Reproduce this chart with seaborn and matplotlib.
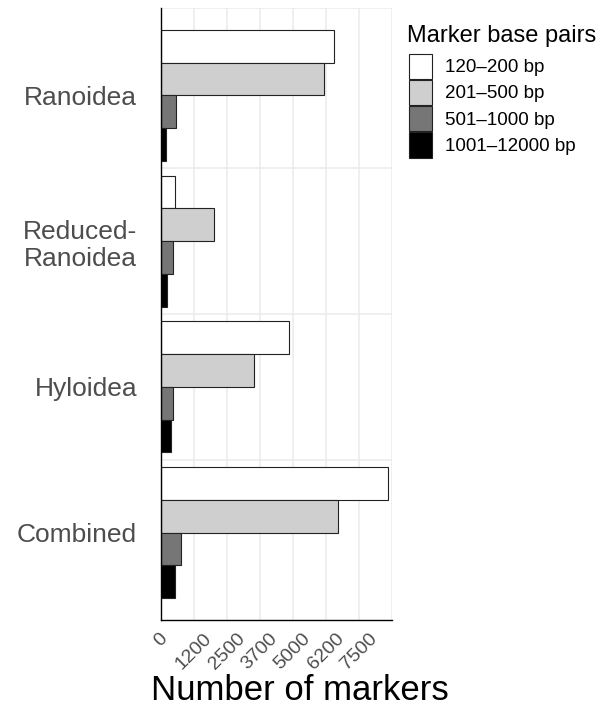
import matplotlib
matplotlib.use("Agg")
import matplotlib.pyplot as plt
import seaborn as sns
import pandas as pd

# Marker counts per clade, split by marker length class
clades = ["Ranoidea", "Reduced-\nRanoidea", "Hyloidea", "Combined"]
size_classes = ["120\u2013200 bp", "201\u2013500 bp", "501\u20131000 bp", "1001\u201312000 bp"]
bp_120_200 = [6540, 550, 4860, 8580]
bp_201_500 = [6180, 2000, 3540, 6720]
bp_501_1000 = [580, 450, 470, 780]
bp_1001_12000 = [210, 240, 400, 530]

x_ticks = [0, 1250, 2500, 3750, 5000, 6250, 7500, 8750]
x_tick_labels = ["0", "1200", "2500", "3700", "5000", "6200", "7500", ""]

fill_colors = ["#ffffff", "#cfcfcf", "#767676", "#000000"]

rows = []
for cls, vals in zip(size_classes, [bp_120_200, bp_201_500, bp_501_1000, bp_1001_12000]):
    for clade, v in zip(clades, vals):
        rows.append({"clade": clade, "size": cls, "markers": v})
df = pd.DataFrame(rows)

sns.set_theme(style="white")
plt.rcParams["font.family"] = ["Liberation Sans", "DejaVu Sans"]

fig = plt.figure(figsize=(6.08, 7.19), dpi=100)
ax = fig.add_axes([160.7 / 608, 1 - 620 / 719, (392 - 160.7) / 608, (620 - 8) / 719])

sns.barplot(data=df, y="clade", x="markers", hue="size", order=clades,
            hue_order=size_classes, palette=fill_colors, orient="h",
            width=0.9, edgecolor="#222222", linewidth=0.8, ax=ax, zorder=3,
            legend=True)

ax.set_xlim(0, 8750)
ax.set_ylim(3.6, -0.6)

# background grid: vertical at ticks, horizontal between clades
for xv in x_ticks:
    ax.axvline(xv, color="#ebebeb", lw=1.1, zorder=0)
for yv in [-0.6, 0.5, 1.5, 2.5]:
    ax.axhline(yv, color="#ebebeb", lw=1.1, zorder=0)

ax.set_xticks(x_ticks)
ax.set_xticklabels(x_tick_labels, rotation=45, ha="center", va="top",
                   fontsize=14, color="#4d4d4d")
ax.tick_params(axis="x", length=0, pad=7)
ax.tick_params(axis="y", length=0, pad=17)
for lab in ax.get_yticklabels():
    lab.set_fontsize(19)
    lab.set_color("#4d4d4d")
    lab.set_ha("right")
    lab.set_multialignment("center")

ax.set_ylabel("")
ax.set_xlabel("Number of markers", fontsize=25, color="black", va="center")
ax.xaxis.set_label_coords(0.6, (620 - 691) / 612)
ax.xaxis.label.set_transform(ax.transAxes)

for side in ["top", "right"]:
    ax.spines[side].set_visible(False)
for side in ["left", "bottom"]:
    ax.spines[side].set_color("black")
    ax.spines[side].set_linewidth(1.0)
    ax.spines[side].set_zorder(4)

# legend: title as its own text, entries below it
fig.text(407 / 608, 1 - 36 / 719, "Marker base pairs", fontsize=17,
         color="black", ha="left", va="center")
handles, labels = ax.get_legend_handles_labels()
leg = ax.legend(handles, labels, loc="upper left",
                bbox_to_anchor=(401 / 608, 1 - 46 / 719), bbox_transform=fig.transFigure,
                frameon=False, fontsize=13.5,
                handlelength=1.25, handleheight=1.7, labelspacing=0.05,
                handletextpad=0.7, borderaxespad=0)
for t in leg.get_texts():
    t.set_color("black")

fig.savefig("out.png", dpi=100)
